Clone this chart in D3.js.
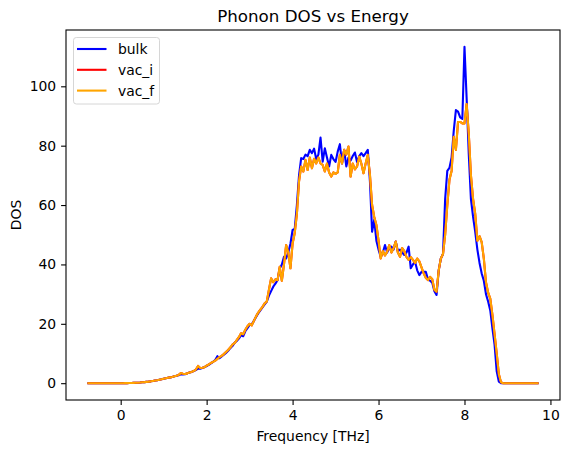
<!DOCTYPE html>
<html>
<head>
<meta charset="utf-8">
<script src="https://cdn.jsdelivr.net/npm/d3@7"></script>
<style>
  body { margin: 0; background: #fff; }
  text { font-family: "DejaVu Sans", sans-serif; }
</style>
</head>
<body>
<div id="chart"></div>
<script>
// frequency grid [THz]
var freq = [-0.75,-0.70,-0.65,-0.60,-0.55,-0.50,-0.45,-0.40,-0.35,-0.30,-0.25,-0.20,-0.15,-0.10,-0.05,0.00,
  0.05,0.10,0.15,0.20,0.25,0.30,0.35,0.40,0.45,0.50,0.55,0.60,0.65,0.70,0.75,0.80,0.85,0.90,0.95,1.00,
  1.05,1.10,1.15,1.20,1.25,1.30,1.35,1.40,1.45,1.50,1.55,1.60,1.65,1.70,1.75,1.80,1.85,1.90,1.95,2.00,
  2.05,2.10,2.15,2.20,2.25,2.30,2.35,2.40,2.45,2.50,2.55,2.60,2.65,2.70,2.75,2.80,2.85,2.90,2.95,3.00,
  3.05,3.10,3.15,3.20,3.25,3.30,3.35,3.40,3.45,3.50,3.55,3.60,3.65,3.70,3.75,3.80,3.85,3.90,3.95,4.00,
  4.05,4.10,4.15,4.20,4.25,4.30,4.35,4.40,4.45,4.50,4.55,4.60,4.65,4.70,4.75,4.80,4.85,4.90,4.95,5.00,
  5.05,5.10,5.15,5.20,5.25,5.30,5.35,5.40,5.45,5.50,5.55,5.60,5.65,5.70,5.75,5.80,5.85,5.90,5.95,6.00,
  6.05,6.10,6.15,6.20,6.25,6.30,6.35,6.40,6.45,6.50,6.55,6.60,6.65,6.70,6.75,6.80,6.85,6.90,6.95,7.00,
  7.05,7.10,7.15,7.20,7.25,7.30,7.35,7.40,7.45,7.50,7.55,7.60,7.65,7.70,7.75,7.80,7.85,7.90,7.95,8.00,
  8.05,8.10,8.15,8.20,8.25,8.30,8.35,8.40,8.45,8.50,8.55,8.60,8.65,8.70,8.75,8.80,8.85,8.90,8.95,9.00,
  9.05,9.10,9.15,9.20,9.25,9.30,9.35,9.40,9.45,9.50,9.55,9.60,9.65,9.70];

var bulk = [0,0,0,0,0,0,0,0,0,0,0,0,0,0,0,0,
  0.0,0.01,0.02,0.04,0.06,0.09,0.13,0.17,0.22,0.3,0.36,0.44,0.52,0.62,0.75,0.88,1.0,1.15,1.3,1.5,
  1.65,1.8,1.95,2.1,2.3,2.5,2.7,3.0,2.9,3.0,3.3,3.6,3.8,4.1,4.4,5.0,4.9,5.1,5.4,5.8,
  6.2,6.7,7.2,7.8,9.1,8.4,9.0,9.6,10.2,10.9,11.8,12.5,13.6,14.2,15.0,16.2,15.8,17.5,18.5,19.6,
  19.8,21.0,22.3,23.5,24.5,25.5,26.5,27.5,29.5,31.0,32.5,33.5,34.7,38.5,40.0,42.6,42.0,44.0,47.0,51.6,
  52.0,60.0,70.0,75.8,75.5,77.0,76.5,78.6,77.5,79.0,75.5,77.0,82.7,74.6,79.1,76.0,73.0,76.9,75.5,74.5,
  78.0,80.5,74.0,78.6,73.0,76.0,75.0,76.5,77.7,74.5,76.5,77.5,76.5,77.5,78.6,68.0,51.0,55.0,48.0,45.0,
  42.6,44.0,46.5,44.0,45.5,46.0,45.0,47.7,44.5,45.0,44.0,43.2,44.0,46.0,38.7,40.0,40.9,38.0,36.4,37.5,
  37.5,37.5,35.0,34.5,33.8,31.0,29.7,38.0,42.0,43.5,62.0,71.5,72.5,76.0,85.0,92.0,91.5,89.5,89.0,113.3,
  96.0,77.0,62.0,56.0,51.0,45.0,40.5,37.0,34.5,30.0,27.5,24.5,18.5,13.0,4.0,0.5,0,0,0,0,
  0,0,0,0,0,0,0,0,0,0,0,0,0,0];

var vacI = [0,0,0,0,0,0,0,0,0,0,0,0,0,0,0,0,
  0.0,0.01,0.02,0.04,0.06,0.09,0.13,0.17,0.22,0.3,0.36,0.44,0.52,0.62,0.75,0.88,1.0,1.15,1.3,1.5,
  1.65,1.8,1.95,2.1,2.3,2.5,2.8,3.4,3.2,3.1,3.3,3.6,3.8,4.1,4.6,5.8,5.1,5.2,5.4,5.9,
  6.3,6.8,7.2,7.6,8.2,8.8,9.2,9.8,10.5,11.2,12.0,13.0,13.5,14.5,15.5,16.8,16.5,18.0,19.2,20.0,
  19.5,21.0,22.5,23.8,24.8,25.7,26.9,27.5,31.5,35.3,34.0,35.0,34.7,39.2,34.5,40.0,46.5,44.0,38.7,47.0,
  50.6,57.0,68.0,73.0,71.3,75.2,71.8,76.0,72.4,75.6,74.0,76.0,74.0,73.5,71.3,74.0,71.0,69.6,71.0,70.5,
  71.0,76.9,74.0,78.6,77.0,79.7,69.6,74.0,72.0,73.0,76.3,74.0,70.7,74.0,76.9,70.2,60.0,56.0,53.3,48.0,
  42.0,44.5,43.0,44.3,46.5,44.0,45.5,47.7,44.0,42.6,45.5,44.5,42.5,41.5,42.5,41.5,40.5,42.0,41.0,39.0,
  37.0,35.5,34.7,35.8,35.0,31.5,30.8,38.0,42.0,43.5,50.0,60.0,68.5,71.5,83.0,78.6,88.0,88.0,87.5,87.5,
  94.0,84.0,70.0,62.0,57.0,48.0,49.5,47.5,42.0,34.0,30.5,28.5,23.0,16.5,10.0,3.0,0.3,0,0,0,
  0,0,0,0,0,0,0,0,0,0,0,0,0,0];

var vacF = [0,0,0,0,0,0,0,0,0,0,0,0,0,0,0,0,
  0.0,0.01,0.02,0.04,0.06,0.09,0.13,0.17,0.22,0.3,0.36,0.44,0.52,0.62,0.75,0.88,1.0,1.15,1.3,1.5,
  1.65,1.8,1.95,2.1,2.3,2.5,2.8,3.4,3.2,3.1,3.3,3.6,3.8,4.1,4.6,5.8,5.1,5.2,5.4,5.9,
  6.3,6.8,7.2,7.6,8.2,8.8,9.2,9.8,10.5,11.2,12.0,13.0,13.5,14.5,15.5,16.8,16.5,18.0,19.2,20.0,
  19.5,21.0,22.5,23.8,24.8,25.7,26.9,27.5,31.5,35.3,34.0,35.0,34.7,39.2,34.5,40.0,46.5,44.0,38.7,47.0,
  50.6,57.0,68.0,73.0,71.3,75.2,71.8,76.0,72.4,75.6,74.0,76.0,74.0,73.5,71.3,74.0,71.0,69.6,71.0,70.5,
  71.0,76.9,74.0,78.6,77.0,79.7,69.6,74.0,72.0,73.0,76.3,74.0,70.7,74.0,76.9,70.2,60.0,56.0,53.3,48.0,
  42.0,44.5,43.0,44.3,46.5,44.0,45.5,47.7,44.0,42.6,45.5,44.5,42.5,41.5,42.5,41.5,40.5,42.0,41.0,39.0,
  37.0,35.5,34.7,35.8,35.0,31.5,30.8,38.0,42.0,43.5,50.0,60.0,68.5,71.5,83.0,78.6,88.0,88.0,87.5,87.5,
  94.0,84.0,70.0,62.0,57.0,48.0,49.5,47.5,42.0,34.0,30.5,28.5,23.0,16.5,10.0,3.0,0.3,0,0,0,
  0,0,0,0,0,0,0,0,0,0,0,0,0,0];

var seriesNames = ["bulk", "vac_i", "vac_f"];
var seriesColors = ["blue", "red", "orange"];
var xTicks = [0, 2, 4, 6, 8, 10];
var yTicks = [0, 20, 40, 60, 80, 100];

var W = 571, H = 453;
var margin = {top: 30, right: 11, bottom: 53, left: 66};
var width = W - margin.left - margin.right,
    height = H - margin.top - margin.bottom;

var svg = d3.select("#chart")
  .append("svg")
    .attr("width", W)
    .attr("height", H)
  .append("g")
    .attr("transform", "translate(" + margin.left + "," + margin.top + ")");

// matplotlib-like 5% margins
var xmin = d3.min(freq), xmax = d3.max(freq);
var allY = bulk.concat(vacI, vacF);
var ymin = d3.min(allY), ymax = d3.max(allY);
var dx = (xmax - xmin) * 0.05, dy = (ymax - ymin) * 0.05;

var x = d3.scaleLinear().domain([xmin - dx, xmax + dx]).range([0, width]);
var y = d3.scaleLinear().domain([ymin - dy, ymax + dy]).range([height, 0]);

// lines
var line = d3.line()
  .x(function(d) { return x(d[0]); })
  .y(function(d) { return y(d[1]); });

[bulk, vacI, vacF].forEach(function(vals, k) {
  svg.append("path")
    .datum(freq.map(function(f, i) { return [f, vals[i]]; }))
    .attr("fill", "none")
    .attr("stroke", seriesColors[k])
    .attr("stroke-width", 2.1)
    .attr("stroke-linejoin", "round")
    .attr("stroke-linecap", "square")
    .attr("d", line);
});

// axes
var xAxis = svg.append("g")
  .attr("transform", "translate(0," + height + ")")
  .call(d3.axisBottom(x).tickValues(xTicks).tickSize(4.9).tickPadding(4.9).tickFormat(d3.format("d")));
var yAxis = svg.append("g")
  .call(d3.axisLeft(y).tickValues(yTicks).tickSize(4.9).tickPadding(4.9).tickFormat(d3.format("d")));

[xAxis, yAxis].forEach(function(a) {
  a.select(".domain").remove();
  a.selectAll("line").attr("stroke", "#000").attr("stroke-width", 1.1);
  a.selectAll("text").attr("font-size", "13.9px").attr("fill", "#000")
    .style("font-family", "'DejaVu Sans', sans-serif");
});

// frame
svg.append("rect")
  .attr("width", width)
  .attr("height", height)
  .attr("fill", "none")
  .attr("stroke", "#000")
  .attr("stroke-width", 1.1);

// labels
svg.append("text")
  .attr("x", width / 2)
  .attr("y", -8)
  .attr("text-anchor", "middle")
  .attr("font-size", "16.7px")
  .text("Phonon DOS vs Energy");

svg.append("text")
  .attr("x", width / 2)
  .attr("y", height + 41)
  .attr("text-anchor", "middle")
  .attr("font-size", "13.9px")
  .text("Frequency [THz]");

svg.append("text")
  .attr("transform", "rotate(-90)")
  .attr("x", -height / 2)
  .attr("y", -45)
  .attr("text-anchor", "middle")
  .attr("font-size", "13.9px")
  .text("DOS");

// legend
var legend = svg.append("g").attr("transform", "translate(7.5,7.5)");
legend.append("rect")
  .attr("width", 86)
  .attr("height", 66.5)
  .attr("rx", 2.8)
  .attr("fill", "#fff")
  .attr("fill-opacity", 0.8)
  .attr("stroke", "#d6d6d6")
  .attr("stroke-width", 1);

seriesNames.forEach(function(name, k) {
  var g = legend.append("g").attr("transform", "translate(0," + (11.5 + k * 20.8) + ")");
  g.append("line")
    .attr("x1", 3.5).attr("x2", 33)
    .attr("stroke", seriesColors[k])
    .attr("stroke-width", 2.1);
  g.append("text")
    .attr("x", 44.5)
    .attr("y", 5)
    .attr("font-size", "13.9px")
    .text(name);
});
</script>
</body>
</html>
